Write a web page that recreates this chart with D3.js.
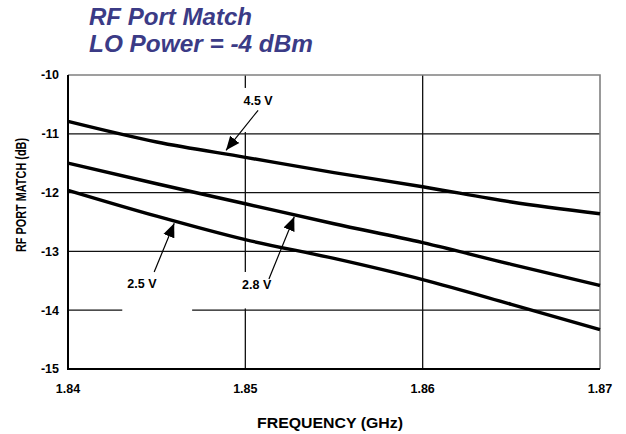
<!DOCTYPE html>
<html>
<head>
<meta charset="utf-8">
<script src="https://cdn.jsdelivr.net/npm/d3@7"></script>
<style>
  body { margin: 0; background: #fff; }
  svg { display: block; font-family: "Liberation Sans", Arial, sans-serif; }
</style>
</head>
<body>
<div id="chart"></div>
<script>
const width = 626, height = 434;

// data
const freqs = [1.84, 1.845, 1.85, 1.855, 1.86, 1.865, 1.87];
const v45 = [-10.79, -11.14, -11.40, -11.66, -11.90, -12.16, -12.36];
const v28 = [-11.50, -11.85, -12.19, -12.53, -12.85, -13.22, -13.58];
const v25 = [-11.96, -12.40, -12.80, -13.12, -13.48, -13.90, -14.33];
const xTicks = [1.84, 1.85, 1.86, 1.87];
const yTicks = [-10, -11, -12, -13, -14, -15];

// callouts: label spot, arrow tail, arrow tip (data units)
const callouts = [
  {text: '4.5 V', lx: 1.85072, ly: -10.43, x1: 1.85072, y1: -10.60, x2: 1.84891, y2: -11.28},
  {text: '2.5 V', lx: 1.84417, ly: -13.54, x1: 1.84486, y1: -13.35, x2: 1.84599, y2: -12.52},
  {text: '2.8 V', lx: 1.85064, ly: -13.57, x1: 1.85133, y1: -13.47, x2: 1.85276, y2: -12.41}
];
// white knock-outs behind the callout labels
const knockouts = [
  {x0: 1.84925, x1: 1.85085, y0: -10.22, y1: -10.97},
  {x0: 1.84306, x1: 1.84700, y0: -13.33, y1: -14.08},
  {x0: 1.84920, x1: 1.85060, y0: -13.35, y1: -13.97}
];

const margin = {top: 75, right: 26, bottom: 65, left: 68};

const x = d3.scaleLinear()
  .domain([1.84, 1.87])
  .range([margin.left, width - margin.right]);

const y = d3.scaleLinear()
  .domain([-15, -10])
  .range([height - margin.bottom, margin.top]);

const svg = d3.select('#chart').append('svg')
  .attr('width', width)
  .attr('height', height);

// title
const title = svg.append('g')
  .attr('fill', '#3b3b86')
  .style('font-size', '23px')
  .style('font-weight', 'bold')
  .style('font-style', 'italic');
title.append('text').attr('x', 89).attr('y', 25)
  .attr('textLength', 163).attr('lengthAdjust', 'spacingAndGlyphs')
  .text('RF Port Match');
title.append('text').attr('x', 89).attr('y', 52)
  .attr('textLength', 224).attr('lengthAdjust', 'spacingAndGlyphs')
  .text('LO Power = -4 dBm');

// grid
const grid = svg.append('g').attr('stroke', '#111').attr('stroke-width', 1.3);
grid.selectAll('line.h')
  .data(yTicks.slice(1, -1))
  .join('line')
    .attr('x1', x(1.84)).attr('x2', x(1.87))
    .attr('y1', d => y(d)).attr('y2', d => y(d));
grid.selectAll('line.v')
  .data(xTicks.slice(1, -1))
  .join('line')
    .attr('x1', d => x(d)).attr('x2', d => x(d))
    .attr('y1', y(-10)).attr('y2', y(-15));

// frame: grey top/right, black left/bottom
svg.append('path')
  .attr('d', `M${x(1.84)},${y(-10)}H${x(1.87)}V${y(-15)}`)
  .attr('fill', 'none').attr('stroke', '#808080').attr('stroke-width', 1.6);

svg.append('g')
  .selectAll('rect')
  .data(knockouts)
  .join('rect')
    .attr('x', d => x(d.x0))
    .attr('y', d => y(d.y0))
    .attr('width', d => x(d.x1) - x(d.x0))
    .attr('height', d => y(d.y1) - y(d.y0))
    .attr('fill', '#fff');

svg.append('path')
  .attr('d', `M${x(1.84)},${y(-10)}V${y(-15)}H${x(1.87)}`)
  .attr('fill', 'none').attr('stroke', '#000').attr('stroke-width', 2);

// curves
const line = d3.line()
  .x((d, i) => x(freqs[i]))
  .y(d => y(d))
  .curve(d3.curveMonotoneX);

svg.append('g')
  .selectAll('path')
  .data([v45, v28, v25])
  .join('path')
    .attr('d', line)
    .attr('fill', 'none')
    .attr('stroke', '#000')
    .attr('stroke-width', 3.4);

// arrows
svg.append('defs').append('marker')
  .attr('id', 'head')
  .attr('viewBox', '0 0 10 10')
  .attr('refX', 10).attr('refY', 5)
  .attr('markerWidth', 14).attr('markerHeight', 14)
  .attr('markerUnits', 'userSpaceOnUse')
  .attr('orient', 'auto')
  .append('path')
    .attr('d', 'M0,0.8L10,5L0,9.2Z')
    .attr('fill', '#000');

svg.append('g')
  .selectAll('line')
  .data(callouts)
  .join('line')
    .attr('x1', d => x(d.x1)).attr('y1', d => y(d.y1))
    .attr('x2', d => x(d.x2)).attr('y2', d => y(d.y2))
    .attr('stroke', '#000')
    .attr('stroke-width', 1.2)
    .attr('marker-end', 'url(#head)');

svg.append('g')
  .selectAll('text')
  .data(callouts)
  .join('text')
    .attr('x', d => x(d.lx))
    .attr('y', d => y(d.ly))
    .attr('dy', '0.35em')
    .attr('text-anchor', 'middle')
    .style('font-size', '12.5px')
    .style('font-weight', 'bold')
    .text(d => d.text);

// tick labels
svg.append('g')
  .selectAll('text')
  .data(yTicks)
  .join('text')
    .attr('x', margin.left - 9)
    .attr('y', d => y(d))
    .attr('dy', '0.35em')
    .attr('text-anchor', 'end')
    .style('font-size', '12.5px')
    .style('font-weight', 'bold')
    .text(d => d);

svg.append('g')
  .selectAll('text')
  .data(xTicks)
  .join('text')
    .attr('x', d => x(d))
    .attr('y', 388.5)
    .attr('dy', '0.35em')
    .attr('text-anchor', 'middle')
    .style('font-size', '12.5px')
    .style('font-weight', 'bold')
    .text(d => d3.format('.2f')(d));

// axis titles
svg.append('text')
  .attr('x', 330).attr('y', 428)
  .attr('text-anchor', 'middle')
  .attr('textLength', 146)
  .attr('lengthAdjust', 'spacingAndGlyphs')
  .style('font-size', '14px')
  .style('font-weight', 'bold')
  .text('FREQUENCY (GHz)');

svg.append('text')
  .attr('transform', 'translate(25.5,195) rotate(-90)')
  .attr('text-anchor', 'middle')
  .attr('textLength', 114)
  .attr('lengthAdjust', 'spacingAndGlyphs')
  .style('font-size', '14.5px')
  .style('font-weight', 'bold')
  .text('RF PORT MATCH (dB)');
</script>
</body>
</html>
